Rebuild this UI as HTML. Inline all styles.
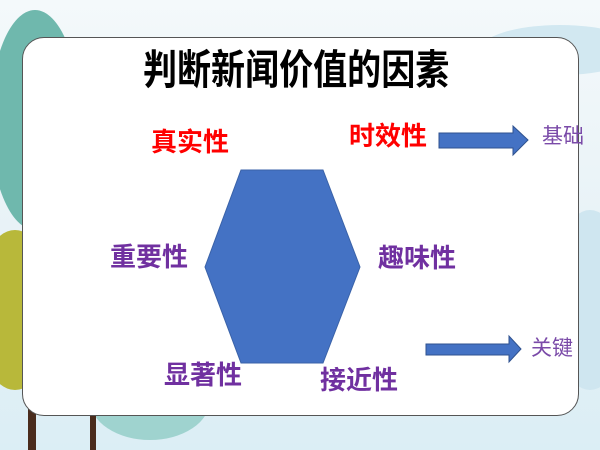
<!DOCTYPE html>
<html><head><meta charset="utf-8"><style>
body{margin:0;width:600px;height:450px;overflow:hidden;position:relative;background:linear-gradient(180deg,#f4f9fb 0%,#e6f1f6 60%,#dbeef5 100%);font-family:"Liberation Sans","Noto Sans CJK SC",sans-serif}
.card{position:absolute;left:22px;top:37px;width:555px;height:377px;background:#fff;border:1.5px solid #555;border-radius:22px}
.t{position:absolute;white-space:nowrap;line-height:1}
.r{color:#f00;font-weight:bold;font-size:26px}
.p{color:#7030a0;font-weight:bold;font-size:26px}
.s{color:#7a4aa8;font-size:21px}
</style></head><body>
<svg style="position:absolute;left:0;top:0" width="600" height="450">
<ellipse cx="35" cy="120" rx="45" ry="110" fill="#6fb8ad"/>
<ellipse cx="15" cy="310" rx="40" ry="80" fill="#b8b83a"/>
<ellipse cx="150" cy="400" rx="60" ry="40" fill="#9fd3cf"/>
<rect x="28" y="400" width="8" height="50" fill="#4a2c1d"/>
<rect x="90" y="400" width="6" height="50" fill="#4a2c1d"/>
<ellipse cx="560" cy="50" rx="80" ry="25" fill="#d2e8f1"/>
<ellipse cx="590" cy="300" rx="40" ry="90" fill="#cfe6f0"/>
</svg>
<div class="card"></div>
<div class="t" style="left:143px;top:50px;font-size:41px;color:#000;font-weight:bold;transform:scaleX(0.83);transform-origin:0 0">判断新闻价值的因素</div>
<svg style="position:absolute;left:0;top:0" width="600" height="450">
<polygon points="241,170 323,170 360,267 323,363 241,363 205,267" fill="#4472c4" stroke="#3a62a8"/>
<polygon points="439,133 513,133 513,126 528,140 513,155 513,148 439,148" fill="#4472c4" stroke="#2f528f"/>
<polygon points="426,344 509,344 509,336 521,349 509,362 509,355 426,355" fill="#4472c4" stroke="#2f528f"/>
</svg>
<div class="t r" style="left:151px;top:129px">真实性</div>
<div class="t r" style="left:349px;top:123px">时效性</div>
<div class="t p" style="left:110px;top:244px">重要性</div>
<div class="t p" style="left:378px;top:245px">趣味性</div>
<div class="t p" style="left:164px;top:362px">显著性</div>
<div class="t p" style="left:320px;top:367px">接近性</div>
<div class="t s" style="left:542px;top:126px">基础</div>
<div class="t s" style="left:531px;top:338px">关键</div>
</body></html>
